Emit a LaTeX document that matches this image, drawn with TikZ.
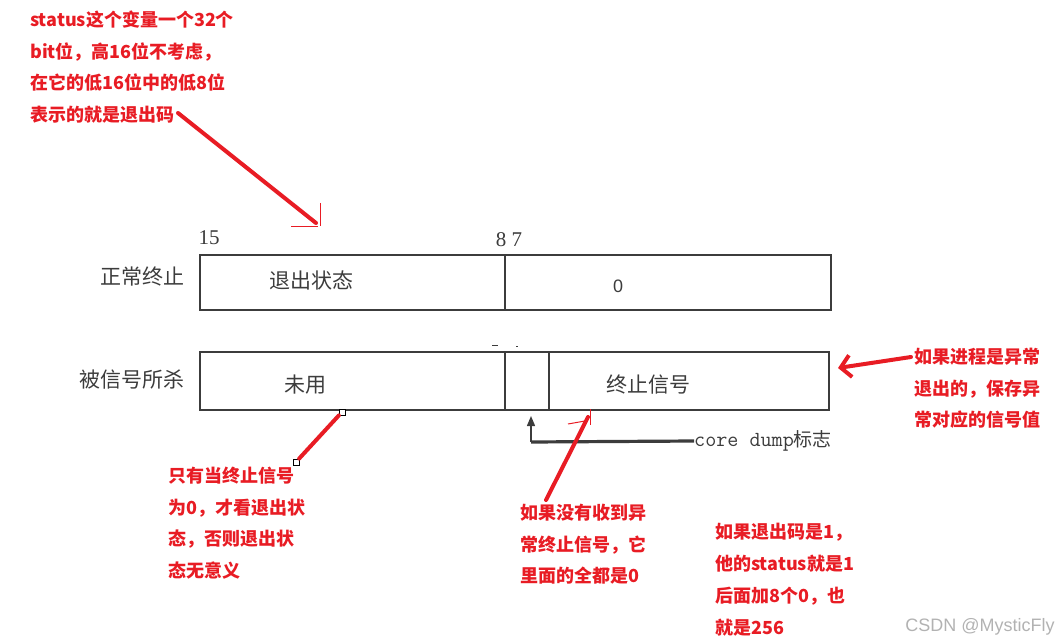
\documentclass[tikz,border=0pt]{standalone}
\usepackage{fontspec}
\newfontfamily\cjk{Noto Sans CJK SC}
\newfontfamily\sernum{Liberation Serif}
\newfontfamily\wmfont{Liberation Sans}
\usetikzlibrary{arrows.meta}
\definecolor{redt}{RGB}{232,28,36}
\definecolor{ink}{RGB}{60,60,60}
\tikzset{
  note/.style={text=redt, font=\cjk\bfseries\fontsize{18}{31.5}\selectfont, align=left, anchor=north west, inner sep=0pt},
  lbl/.style={text=ink, font=\cjk\fontsize{21}{24}\selectfont, inner sep=0pt},
  field/.style={draw=ink, line width=2.6pt, inner sep=0pt},
  redline/.style={draw=redt, line width=4pt, line cap=round},
  thinred/.style={draw=redt, line width=1pt},
  handle/.style={draw=black, fill=white, line width=0.8pt, minimum size=6pt, inner sep=0pt},
}
\begin{document}
\begin{tikzpicture}[x=1pt,y=-1pt]
\useasboundingbox (0,0) rectangle (1064,644);

% bit fields
\node[field, minimum width=305pt, minimum height=55pt] (f1a) at (352.5,282.5) {};
\node[field, minimum width=326pt, minimum height=55pt] (f1b) at (668,282.5) {};
\node[field, minimum width=305pt, minimum height=58pt] (f2a) at (352.5,381) {};
\node[field, minimum width=44pt, minimum height=58pt] (f2b) at (527,381) {};
\node[field, minimum width=280pt, minimum height=58pt] (f2c) at (689,381) {};

% labels
\node[lbl, font=\sernum\fontsize{21}{24}\selectfont] (l15) at (209,238) {15};
\node[lbl, font=\sernum\fontsize{21}{24}\selectfont] (l87) at (509,240) {8 7};
\node[lbl] (lnorm) at (142,277) {正常终止};
\node[lbl] (lexit) at (311,280) {退出状态};
\node[lbl, font=\wmfont\fontsize{18}{20}\selectfont] (lzero) at (618,286) {0};
\node[lbl] (lkill) at (132,380) {被信号所杀};
\node[lbl] (lunused) at (305,385) {未用};
\node[lbl] (lsig) at (648,385) {终止信号};

% tiny marks
\draw[ink, line width=1pt] (492,345) -- (498,345);
\draw[ink, line width=1pt] (516,346) -- (518,346);

% core dump
\coordinate (cd) at (531,442);
\coordinate (cdtop) at (531,416);
\node[lbl, anchor=west, font=\fontsize{19}{22}\selectfont] (lcore) at (694,441) {{\ttfamily\fontsize{21.5}{22}\selectfont core dump}\cjk 标志};
\draw[ink, line width=1.4pt, -{Triangle[length=10pt,width=8pt]}] (cd) -- (cdtop);
\draw[ink, line width=3.2pt] (cd) -- (lcore.west);

% red notes
\node[note] (t1) at (30,11) {status这个变量一个32个\\bit位，高16位不考虑，\\在它的低16位中的低8位\\表示的就是退出码};
\node[note] (t2) at (168,467) {只有当终止信号\\为0，才看退出状\\态，否则退出状\\态无意义};
\node[note] (t3) at (520,504) {如果没有收到异\\常终止信号，它\\里面的全都是0};
\node[note] (t4) at (914,348) {如果进程是异常\\退出的，保存异\\常对应的信号值};
\node[note, font=\cjk\bfseries\fontsize{18}{32}\selectfont] (t5) at (715,523) {如果退出码是1，\\他的status就是1\\后面加8个0，也\\就是256};

% red arrows
\coordinate (a1s) at (178,113);
\coordinate (a1e) at (316,223);
\draw[redline] (a1s) -- (a1e);
\draw[thinred] (291,227) -- (318,227);
\draw[thinred] (320,203) -- (320,226);

\node[handle] (h1) at (342,412) {};
\node[handle] (h2) at (296,462) {};
\draw[redline] (h1) -- (h2);

\coordinate (a3s) at (588,417);
\coordinate (a3e) at (546,500);
\draw[redline] (a3s) -- (a3e);
\draw[thinred] (568,424) -- (585,421);
\draw[thinred] (590,409) -- (590,425);

\coordinate (a4s) at (911,357);
\coordinate (a4e) at (838,368);
\draw[redline, -{Straight Barb[length=10pt,width=22pt]}] (a4s) -- (a4e);

% watermark
\node[text=black!30, font=\wmfont\fontsize{18}{20}\selectfont, inner sep=0pt] (wm) at (980,627) {CSDN @MysticFly};
\end{tikzpicture}
\end{document}
